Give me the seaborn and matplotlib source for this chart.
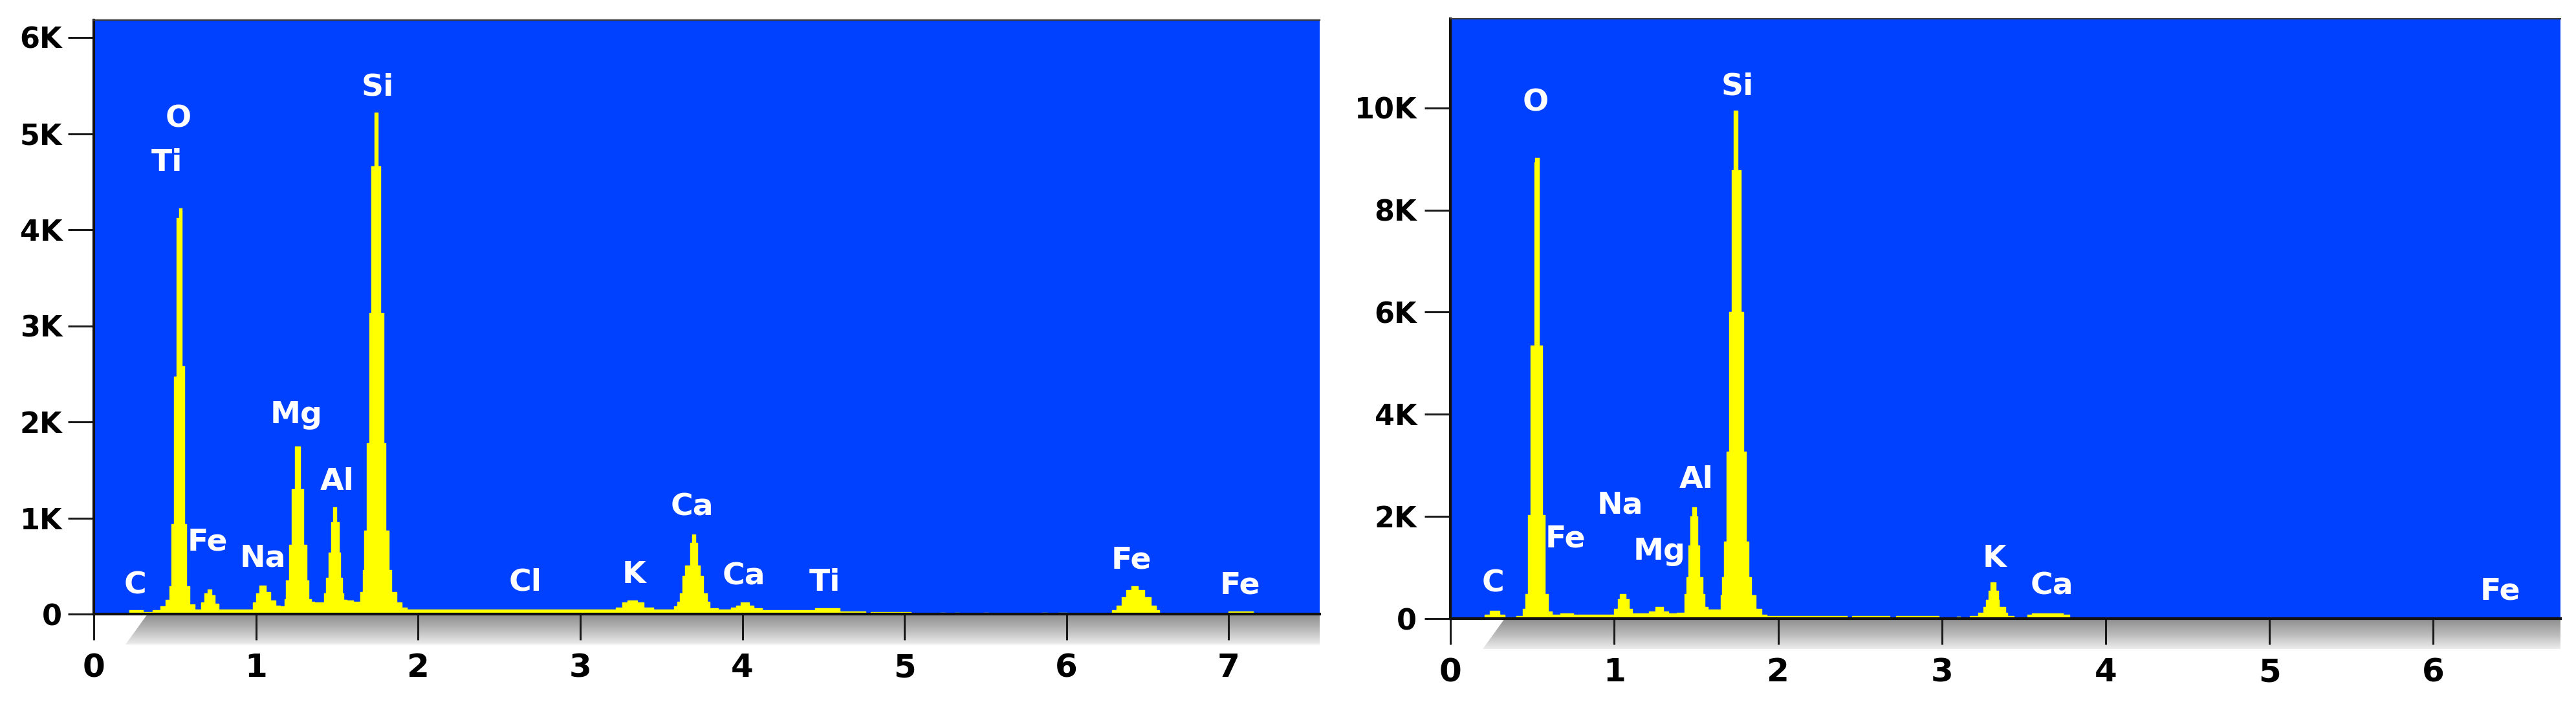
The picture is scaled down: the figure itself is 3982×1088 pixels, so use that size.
import matplotlib
matplotlib.use("Agg")
import matplotlib.pyplot as plt
import numpy as np
import seaborn as sns
from matplotlib.patches import Polygon
from matplotlib.ticker import FuncFormatter

BLUE = "#0040ff"
YELLOW = "#ffff00"

# Left spectrum: energy (keV) where each flat channel step starts, and its counts
left_energy = [
    0.00, 0.22, 0.30, 0.36, 0.41, 0.44, 0.464, 0.477, 0.495, 0.510, 0.525,
    0.541, 0.558, 0.570, 0.590, 0.620,
    0.66, 0.68, 0.70, 0.725, 0.745, 0.77,
    0.98, 1.00, 1.02, 1.06, 1.09, 1.12, 1.15,
    1.174, 1.183, 1.203, 1.220, 1.240, 1.272, 1.293, 1.310, 1.324, 1.339, 1.36,
    1.418, 1.430, 1.449, 1.462, 1.475, 1.495, 1.511, 1.520, 1.530, 1.540, 1.56, 1.60,
    1.644, 1.657, 1.667, 1.683, 1.698, 1.712, 1.731, 1.751, 1.768, 1.786, 1.800,
    1.817, 1.835, 1.867, 1.90, 1.93,
    3.22, 3.26, 3.29, 3.35, 3.39, 3.45,
    3.58, 3.60, 3.615, 3.63, 3.646, 3.677, 3.69, 3.71, 3.723, 3.738, 3.76, 3.781,
    3.80, 3.85,
    3.93, 3.96, 3.99, 4.04, 4.07, 4.12,
    4.45, 4.60, 4.76, 4.79, 5.04, 5.22, 5.25, 5.31, 5.34, 5.49, 5.52, 5.85,
    5.88, 5.95, 6.00,
    6.28, 6.31, 6.34, 6.37, 6.40, 6.44, 6.48, 6.52, 6.55, 6.57,
    7.00, 7.15, 7.56,
]
left_counts = [
    0, 40, 20, 40, 80, 150, 290, 940, 2470, 4120, 4220,
    2580, 940, 290, 100, 50,
    120, 220, 260, 200, 110, 50,
    120, 220, 300, 230, 140, 90, 80,
    160, 350, 720, 1300, 1745, 1300, 720, 350, 160, 130, 120,
    220, 380, 640, 960, 1110, 960, 640, 380, 220, 150, 140, 130,
    230, 460, 870, 1780, 3130, 4660, 5220, 4660, 3130, 1780, 870,
    460, 230, 120, 70, 50,
    70, 120, 145, 120, 70, 50,
    80, 130, 220, 400, 510, 740, 830, 740, 510, 400, 220, 130,
    60, 50,
    70, 90, 120, 90, 60, 40,
    60, 30, 0, 20, 0, 15, 0, 15, 0, 15, 0, 15,
    0, 15, 0,
    40, 90, 180, 250, 290, 250, 180, 90, 40, 0,
    30, 0, 0,
]
left_labels = ["C", "O", "Ti", "Fe", "Na", "Mg", "Al", "Si", "Cl", "K",
               "Ca", "Ca", "Ti", "Fe", "Fe"]
left_label_energy = [0.255, 0.52, 0.45, 0.70, 1.04, 1.25, 1.50, 1.75, 2.66, 3.33,
                     3.69, 4.01, 4.51, 6.40, 7.07]
left_label_counts = [300, 5150, 4700, 750, 580, 2070, 1380, 5480, 330, 410,
                     1110, 390, 330, 560, 300]

# Right spectrum
right_energy = [
    0.00, 0.21, 0.24, 0.30, 0.33, 0.40, 0.44,
    0.457, 0.474, 0.489, 0.511, 0.518, 0.541, 0.559, 0.575, 0.596, 0.62,
    0.67, 0.75, 1.00, 1.02, 1.035, 1.07, 1.09, 1.11, 1.15,
    1.21, 1.25, 1.30, 1.33, 1.38,
    1.427, 1.440, 1.453, 1.463, 1.476, 1.499, 1.508, 1.518, 1.538, 1.551, 1.57,
    1.650, 1.659, 1.668, 1.685, 1.702, 1.718, 1.729, 1.753, 1.771, 1.787, 1.804,
    1.821, 1.837, 1.864, 1.90, 1.93,
    2.42, 2.45, 2.68, 2.72, 2.98, 3.09, 3.11,
    3.17, 3.22, 3.254, 3.270, 3.284, 3.296, 3.329, 3.343, 3.350, 3.386, 3.40, 3.44,
    3.52, 3.55, 3.74, 3.78, 6.775,
]
right_counts = [
    0, 80, 160, 80, 30, 60, 200,
    490, 2030, 5350, 8930, 9020, 5350, 2030, 490, 150, 80,
    110, 85, 200, 380, 490, 380, 200, 110, 100,
    150, 230, 150, 110, 120,
    490, 810, 1440, 2000, 2180, 2000, 1440, 810, 490, 230, 180,
    460, 810, 1510, 3270, 6010, 8780, 9940, 8780, 6010, 3270, 1510,
    810, 460, 200, 80, 50,
    0, 50, 0, 50, 0, 40, 0,
    60, 120, 230, 370, 550, 710, 550, 370, 230, 120, 60, 0,
    80, 110, 80, 0, 0,
]
right_labels = ["C", "O", "Fe", "Na", "Mg", "Al", "Si", "K", "Ca", "Fe"]
right_label_energy = [0.26, 0.518, 0.70, 1.035, 1.275, 1.50, 1.75, 3.32, 3.67, 6.41]
right_label_counts = [690, 10100, 1560, 2220, 1320, 2720, 10410, 1170, 640, 530]

sns.set_theme(style="ticks")
plt.rcParams["font.family"] = ["DejaVu Sans"]
plt.rcParams["font.weight"] = "bold"


def kilo(v, _):
    return "0" if v == 0 else f"{int(round(v / 1000))}K"


def draw_panel(fig, rect, energy, counts, xmax, ymax, yticks, xticks,
               names, name_e, name_c, ypad):
    ax = fig.add_axes(rect, zorder=2)
    ax.set_facecolor(BLUE)
    ax.fill_between(energy, counts, step="post", color=YELLOW, lw=0)
    sns.lineplot(x=energy, y=counts, drawstyle="steps-post", color=YELLOW,
                 lw=1.0, ax=ax, estimator=None, sort=False)
    ax.set_xlim(0, xmax)
    ax.set_ylim(0, ymax)
    ax.set_xticks(xticks)
    ax.set_yticks(yticks)
    ax.yaxis.set_major_formatter(FuncFormatter(kilo))
    ax.tick_params(axis="x", length=28.5, width=2.2, color="#1a1a1a",
                   labelsize=36, pad=14, labelcolor="black")
    ax.tick_params(axis="y", length=28.5, width=2.2, color="#1a1a1a",
                   labelsize=32, pad=ypad, labelcolor="black")
    for side in ("left", "bottom"):
        ax.spines[side].set_linewidth(3.0)
        ax.spines[side].set_color("#111111")
    ax.spines["top"].set_linewidth(1.6)
    ax.spines["top"].set_color("#3a3a3a")
    ax.spines["right"].set_visible(False)
    for name, e, c in zip(names, name_e, name_c):
        ax.text(e, c, name, color="white", fontsize=34, fontweight="bold",
                ha="center", va="center")

    # grey shaded strip under the energy axis
    x0, y0, w, h = rect
    e0 = 0.196
    band_h = 47 / 1088
    band = fig.add_axes([x0 + w * e0 / xmax, y0 - band_h, w * (1 - e0 / xmax), band_h],
                        zorder=1)
    grad = np.linspace(0, 1, 64).reshape(-1, 1)
    cmap = matplotlib.colors.LinearSegmentedColormap.from_list(
        "strip", ["#8e8e8e", "#b9b9b9", "#ececec"])
    im = band.imshow(grad, aspect="auto", cmap=cmap, extent=(0, 1, 0, 1),
                     origin="upper")
    d = (0.33 - e0) / (xmax - e0)
    clip = Polygon([(0, 0), (1, 0), (1, 1), (d, 1)], closed=True,
                   transform=band.transAxes, facecolor="none", edgecolor="none")
    band.add_patch(clip)
    im.set_clip_path(clip)
    band.set_xlim(0, 1)
    band.set_ylim(0, 1)
    band.axis("off")
    return ax


fig = plt.figure(figsize=(39.82, 10.88), dpi=100)
draw_panel(fig, [0.0365, 0.1275, 0.4757, 0.8438], left_energy, left_counts,
           7.56, 6180, list(range(0, 7000, 1000)), list(range(0, 8)),
           left_labels, left_label_energy, left_label_counts, ypad=7)
draw_panel(fig, [0.5631, 0.1210, 0.4308, 0.8522], right_energy, right_counts,
           6.775, 11740, list(range(0, 12000, 2000)), list(range(0, 7)),
           right_labels, right_label_energy, right_label_counts, ypad=9)

fig.savefig("out.png", dpi=100, facecolor="white")
